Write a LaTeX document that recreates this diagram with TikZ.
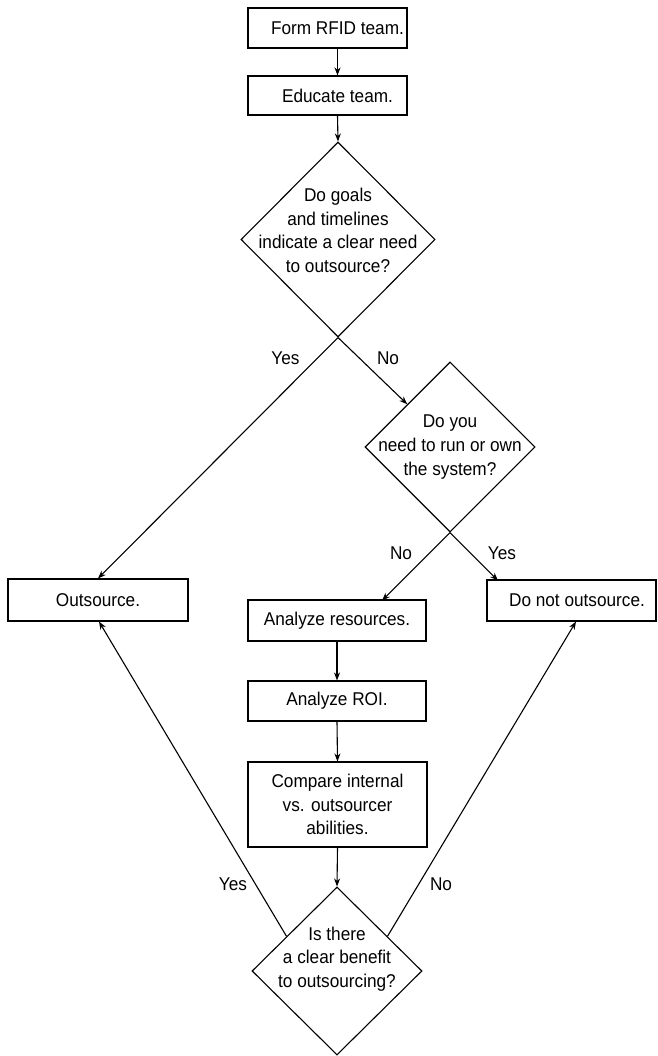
\documentclass[tikz,border=0pt]{standalone}
\usepackage{fontspec}
\setmainfont{Liberation Sans}[FakeStretch=0.93]
\usetikzlibrary{shapes.geometric,arrows.meta,calc}
\begin{document}
\begin{tikzpicture}[x=1pt,y=-1pt,
  every node/.style={font=\fontsize{18.5}{23.7}\selectfont},
  box/.style={draw,line width=1.1pt,inner sep=0pt,align=center},
  dia/.style={draw,diamond,line width=1.1pt,inner sep=0pt},
  txt/.style={inner sep=0pt,align=center},
  arr/.style={line width=1.1pt,-{Stealth[length=8pt,width=6pt,inset=2.5pt]}}]
\fill[white] (0,0) rectangle (657,1056);
\useasboundingbox (0,0) rectangle (657,1056);

% boxes
\node[box,minimum width=159pt,minimum height=40pt] (b1) at (327.5,28) {\hspace*{20pt}Form RFID team.};
\node[box,minimum width=159pt,minimum height=39pt] (b2) at (327.5,95.5) {\hspace*{20pt}Educate team.};
\node[box,minimum width=180pt,minimum height=42pt] (out) at (98,600) {Outsource.};
\node[box,minimum width=169pt,minimum height=41pt] (dno) at (571.5,600.5) {\hspace*{11pt}Do not outsource.};
\node[box,minimum width=178pt,minimum height=41pt] (ar) at (337,620.5) {Analyze resources.};
\node[box,minimum width=178pt,minimum height=40pt] (roi) at (337,701) {Analyze ROI.};
\node[box,minimum width=179pt,minimum height=85pt] (cmp) at (337.5,804.5) {Compare internal\\vs. outsourcer\\abilities.};

% diamonds
\node[dia,minimum width=194pt,minimum height=195pt] (d1) at (338,239.5) {};
\node[txt] (d1t) at (338,230.5) {Do goals\\and timelines\\indicate a clear need\\to outsource?};
\node[dia,minimum width=170pt,minimum height=170pt] (d2) at (450,447) {};
\node[txt] (d2t) at (450,447) {Do you\\need to run or own\\the system?};
\node[dia,minimum width=170pt,minimum height=168pt] (d3) at (337,971) {};
\node[txt] (d3t) at (337,959) {Is there\\a clear benefit\\to outsourcing?};

% connectors
\draw[arr] ([xshift=10pt]b1.south) -- ([xshift=10pt]b2.north);
\draw[arr] ([xshift=10pt]b2.south) -- (d1.north);
\draw[arr] (d1.south) -- (out.north);
\draw[arr] (d1.south) -- (d2.north west);
\coordinate (dnoin) at ($(d2.south)+(48,48)$);
\coordinate (arin) at ($(d2.south)+(-68,68)$);
\draw[arr] (d2.south) -- (dnoin);
\draw[arr] (d2.south) -- (arin);
\draw[arr] (ar.south) -- (roi.north);
\draw[arr] (roi.south) -- (cmp.north);
\draw[arr] (cmp.south) -- (d3.north);
\draw[arr] ($(d3.west)!0.41!(d3.north)$) -- ([xshift=1pt]out.south);
\draw[arr] ($(d3.east)!0.41!(d3.north)$) -- ([xshift=4.5pt]dno.south);

% labels
\node[txt] (l1) at (285.5,358) {Yes};
\node[txt] (l2) at (388,358) {No};
\node[txt] (l3) at (401,553) {No};
\node[txt] (l4) at (502,553) {Yes};
\node[txt] (l5) at (233,884) {Yes};
\node[txt] (l6) at (441,884) {No};
\end{tikzpicture}
\end{document}
